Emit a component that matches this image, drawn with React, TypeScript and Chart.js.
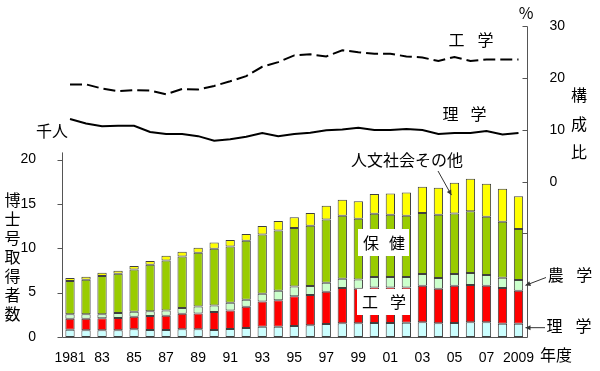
import React, { useEffect, useRef } from 'react';
import { Chart, registerables } from 'chart.js';

Chart.register(...registerables);

// ---- data ----
const years = [
  '1981', '1982', '1983', '1984', '1985', '1986', '1987', '1988', '1989', '1990',
  '1991', '1992', '1993', '1994', '1995', '1996', '1997', '1998', '1999', '2000',
  '2001', '2002', '2003', '2004', '2005', '2006', '2007', '2008', '2009',
];
const xTickLabels = [
  '1981', '', '83', '', '85', '', '87', '', '89', '', '91', '', '93', '', '95', '',
  '97', '', '99', '', '01', '', '03', '', '05', '', '07', '', '2009',
];
// 千人
const science = [0.83, 0.75, 0.75, 0.75, 0.86, 0.79, 0.79, 0.86, 0.86, 0.79, 0.9, 1.01, 1.16, 1.16, 1.24, 1.33, 1.46, 1.54, 1.54, 1.58, 1.58, 1.61, 1.65, 1.54, 1.58, 1.65, 1.65, 1.5, 1.5];
const engineering = [1.23, 1.31, 1.35, 1.39, 1.43, 1.57, 1.61, 1.77, 1.8, 2.02, 2.1, 2.4, 2.84, 2.97, 3.34, 3.4, 3.64, 3.98, 3.9, 4.01, 4.01, 3.98, 4.13, 3.9, 4.2, 4.2, 4.13, 4.02, 3.72];
const agriculture = [0.49, 0.49, 0.45, 0.56, 0.56, 0.53, 0.6, 0.63, 0.79, 0.75, 0.86, 0.79, 0.88, 1.07, 1.1, 1.01, 1.02, 1.05, 1.05, 1.16, 1.16, 1.16, 1.31, 1.2, 1.31, 1.35, 1.2, 1.16, 1.2];
const health = [3.75, 3.9, 4.32, 4.43, 4.77, 5.25, 5.63, 5.82, 6.04, 6.38, 6.34, 6.65, 6.68, 6.8, 6.6, 6.8, 7.13, 7.09, 6.83, 7.13, 7.02, 6.91, 6.87, 7.13, 6.83, 6.98, 6.57, 6.3, 5.74];
const humanities = [0.34, 0.34, 0.37, 0.34, 0.37, 0.42, 0.53, 0.52, 0.57, 0.72, 0.72, 0.75, 0.94, 1.06, 1.2, 1.43, 1.53, 1.8, 1.99, 2.22, 2.4, 2.63, 2.96, 3.04, 3.45, 3.64, 3.71, 3.72, 3.71];
// 構成比 %
const engShare = [18.8, 18.8, 18.0, 17.5, 17.7, 17.6, 16.9, 17.9, 17.8, 18.5, 19.4, 20.4, 22.2, 23.1, 24.4, 24.6, 24.2, 25.4, 25.0, 24.7, 24.7, 24.2, 24.0, 23.3, 24.1, 23.3, 23.6, 23.6, 23.6];
const sciShare = [12.1, 11.25, 10.7, 10.8, 10.8, 9.6, 9.2, 9.2, 8.8, 7.9, 8.2, 8.7, 9.4, 8.8, 9.2, 9.45, 9.96, 10.1, 10.4, 10.0, 10.0, 10.2, 10.0, 9.2, 9.4, 9.4, 9.8, 9.1, 9.4];

const leftTicks = [0, 5, 10, 15, 20];
const rightTickLabels = [0, 10, 20, 30];
const rightTickMarks = [-10, 0, 10, 20, 30];

const NUM_FONT = '"Liberation Sans", Arial, sans-serif';
const JP_FONT = '"Noto Sans CJK JP", "Noto Sans", sans-serif';
const AXIS_COLOR = '#555555';

function drawSpaced(ctx: CanvasRenderingContext2D, chars: string[], cx: number, cy: number, pitch: number, vertical = false) {
  const n = chars.length;
  chars.forEach((c, i) => {
    const off = (i - (n - 1) / 2) * pitch;
    if (vertical) ctx.fillText(c, cx, cy + off);
    else ctx.fillText(c, cx + off, cy);
  });
}

function arrow(ctx: CanvasRenderingContext2D, x1: number, y1: number, x2: number, y2: number) {
  ctx.beginPath();
  ctx.moveTo(x1, y1);
  ctx.lineTo(x2, y2);
  ctx.stroke();
  const a = Math.atan2(y2 - y1, x2 - x1);
  const L = 5, W = 2.5;
  ctx.beginPath();
  ctx.moveTo(x2, y2);
  ctx.lineTo(x2 - L * Math.cos(a) + W * Math.sin(a), y2 - L * Math.sin(a) - W * Math.cos(a));
  ctx.lineTo(x2 - L * Math.cos(a) - W * Math.sin(a), y2 - L * Math.sin(a) + W * Math.cos(a));
  ctx.closePath();
  ctx.fill();
}

const decorPlugin = {
  id: 'decor',
  beforeDatasetsDraw(chart: any) {
    const ctx: CanvasRenderingContext2D = chart.ctx;
    const ca = chart.chartArea;
    const y = chart.scales.y;
    const y2 = chart.scales.y2;
    ctx.save();
    ctx.strokeStyle = AXIS_COLOR;
    ctx.lineWidth = 1;
    const lx = Math.round(ca.left) + 0.5;
    const rx = Math.round(ca.right) + 0.5;
    const by = Math.round(ca.bottom) + 0.5;
    ctx.beginPath();
    // left axis
    ctx.moveTo(lx, y.getPixelForValue(20.8));
    ctx.lineTo(lx, by);
    leftTicks.forEach((v) => {
      const py = Math.round(y.getPixelForValue(v)) + 0.5;
      ctx.moveTo(lx - 5, py);
      ctx.lineTo(lx, py);
    });
    // bottom axis
    ctx.moveTo(lx, by);
    ctx.lineTo(rx, by);
    // right axis
    ctx.moveTo(rx, Math.round(ca.top) + 0.5);
    ctx.lineTo(rx, by);
    rightTickMarks.forEach((v) => {
      const py = Math.round(y2.getPixelForValue(v)) + 0.5;
      ctx.moveTo(rx - 5, py);
      ctx.lineTo(rx, py);
    });
    ctx.stroke();
    ctx.restore();
  },
  afterDraw(chart: any) {
    const ctx: CanvasRenderingContext2D = chart.ctx;
    const ca = chart.chartArea;
    const y = chart.scales.y;
    const x = chart.scales.x;
    const last = years.length - 1;
    ctx.save();
    ctx.fillStyle = '#000';
    ctx.textAlign = 'center';
    ctx.textBaseline = 'middle';

    // white label boxes
    ctx.fillStyle = '#fff';
    ctx.fillRect(358, 229, 51, 27);
    ctx.fillRect(357, 289, 53, 26);

    ctx.fillStyle = '#000';
    ctx.font = `16px ${JP_FONT}`;
    drawSpaced(ctx, ['保', '健'], 384, 243, 26);
    drawSpaced(ctx, ['工', '学'], 384, 302, 28);
    drawSpaced(ctx, ['工', '学'], 471, 40, 29);
    drawSpaced(ctx, ['理', '学'], 464.5, 114, 28);
    drawSpaced(ctx, ['農', '学'], 570, 275, 28.5);
    drawSpaced(ctx, ['理', '学'], 569, 326, 29);
    ctx.fillText('人文社会その他', 407, 160);
    ctx.fillText('千人', 52, 131);
    ctx.fillText('%', 526, 13);
    ctx.fillText('年度', 556, 355);
    drawSpaced(ctx, ['博', '士', '号', '取', '得', '者', '数'], 12.5, 256.5, 19, true);
    drawSpaced(ctx, ['構', '成', '比'], 579, 123.5, 28.5, true);

    // arrows
    ctx.strokeStyle = '#333';
    ctx.fillStyle = '#333';
    ctx.lineWidth = 1;
    arrow(ctx, 438, 171, x.getPixelForValue(24) - 3, y.getPixelForValue(
      science[24] + engineering[24] + agriculture[24] + health[24] + humanities[24] * 0.6));
    const agY = y.getPixelForValue(science[last] + engineering[last] + agriculture[last] * 0.5);
    arrow(ctx, 546, 277.5, ca.right - 1, agY);
    const scY = y.getPixelForValue(science[last] * 0.7);
    arrow(ctx, 545, scY, ca.right - 1, scY);
    ctx.restore();
  },
};

export default function App() {
  const canvasRef = useRef<HTMLCanvasElement | null>(null);

  useEffect(() => {
    document.body.style.margin = '0';
    const canvas = canvasRef.current;
    if (!canvas) return;
    const barCommon = {
      type: 'bar' as const,
      yAxisID: 'y',
      borderColor: '#404040',
      borderWidth: 1,
      borderSkipped: false,
      categoryPercentage: 1,
      barPercentage: 0.58,
      stack: 'a',
      order: 2,
    };
    const chart = new Chart(canvas, {
      data: {
        labels: years,
        datasets: [
          { ...barCommon, label: '理学', data: science, backgroundColor: '#ccffff' },
          { ...barCommon, label: '工学', data: engineering, backgroundColor: '#ff0000' },
          { ...barCommon, label: '農学', data: agriculture, backgroundColor: '#ccffcc' },
          { ...barCommon, label: '保健', data: health, backgroundColor: '#99cc00' },
          { ...barCommon, label: '人文社会その他', data: humanities, backgroundColor: '#ffff00' },
          {
            type: 'line', label: '工学構成比', data: engShare, yAxisID: 'y2',
            borderColor: '#000', borderWidth: 2, borderDash: [12, 5], pointRadius: 0,
            fill: false, tension: 0, order: 1,
          },
          {
            type: 'line', label: '理学構成比', data: sciShare, yAxisID: 'y2',
            borderColor: '#000', borderWidth: 2, pointRadius: 0,
            fill: false, tension: 0, order: 1,
          },
        ],
      } as any,
      options: {
        animation: false,
        responsive: true,
        maintainAspectRatio: false,
        layout: { padding: { top: 26, left: 0, right: 0, bottom: 0 } },
        plugins: { legend: { display: false }, tooltip: { enabled: false } },
        scales: {
          x: {
            stacked: true,
            grid: { display: false },
            border: { display: false },
            ticks: {
              autoSkip: false,
              maxRotation: 0,
              minRotation: 0,
              padding: 5,
              color: '#000',
              font: { family: NUM_FONT, size: 14 },
              callback: (_v: any, i: number) => xTickLabels[i],
            },
            afterFit: (s: any) => { s.height = 34; },
          },
          y: {
            position: 'left',
            stacked: true,
            min: 0,
            max: 35,
            grid: { display: false },
            border: { display: false },
            afterBuildTicks: (s: any) => { s.ticks = leftTicks.map((v) => ({ value: v })); },
            ticks: { padding: 18, color: '#000', font: { family: NUM_FONT, size: 14 } },
            afterFit: (s: any) => { s.width = 62; },
          },
          y2: {
            position: 'right',
            stacked: false,
            min: -30,
            max: 30,
            grid: { display: false },
            border: { display: false },
            afterBuildTicks: (s: any) => { s.ticks = rightTickLabels.map((v) => ({ value: v })); },
            ticks: { padding: 15, color: '#000', font: { family: NUM_FONT, size: 14 } },
            afterFit: (s: any) => { s.width = 73.5; },
          },
        },
      } as any,
      plugins: [decorPlugin],
    });
    return () => chart.destroy();
  }, []);

  return (
    <div style={{ position: 'fixed', left: 0, top: 0, width: 600, height: 371, background: '#fff' }}>
      <canvas ref={canvasRef} />
    </div>
  );
}
